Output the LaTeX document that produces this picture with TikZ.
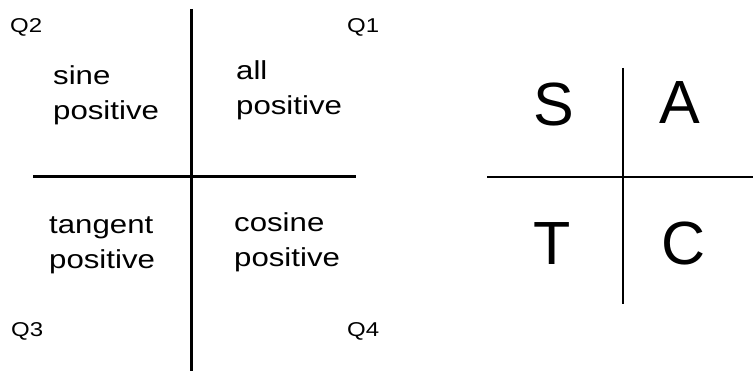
\documentclass[tikz,border=0pt]{standalone}
\usepackage{fontspec}
\setmainfont{Liberation Sans}
\newfontfamily\widesans[FakeStretch=1.2]{Liberation Sans}
\usetikzlibrary{positioning}

\begin{document}
\begin{tikzpicture}[x=1pt, y=-1pt,
        eje/.style={line width=3pt},
        ejeb/.style={line width=2pt},
        quad/.style={anchor=base west, inner sep=0pt, font=\widesans\fontsize{20}{24}\selectfont},
        signo/.style={anchor=base west, inner sep=0pt, align=left, font=\widesans\fontsize{26}{35}\selectfont},
        letra/.style={anchor=base, inner sep=0pt, font=\fontsize{61}{70}\selectfont}]
        \useasboundingbox (0,0) rectangle (753,371);
        % cuadrantes
        \draw[eje] (191,9) -- (191,371);
        \draw[eje] (33,177) -- (356,177);
        \node[quad] (q2) at (10,33) {Q2};
        \node[quad] (q1) at (347,33) {Q1};
        \node[quad] (q3) at (11,337) {Q3};
        \node[quad] (q4) at (347,337) {Q4};
        \node[signo] (sen) at (53,120) {sine\\positive};
        \node[signo] (todo) at (236,115) {all\\positive};
        \node[signo] (tan) at (49,269) {tangent\\positive};
        \node[signo] (cos) at (234,267) {cosine\\positive};
        % regla ASTC
        \draw[ejeb] (623,68) -- (623,304);
        \draw[ejeb] (487,177) -- (753,177);
        \node[letra] (s) at (554,126) {S};
        \node[letra] (a) at (680,124) {A};
        \node[letra] (t) at (552,265) {T};
        \node[letra] (c) at (684,265) {C};
\end{tikzpicture}
\end{document}
